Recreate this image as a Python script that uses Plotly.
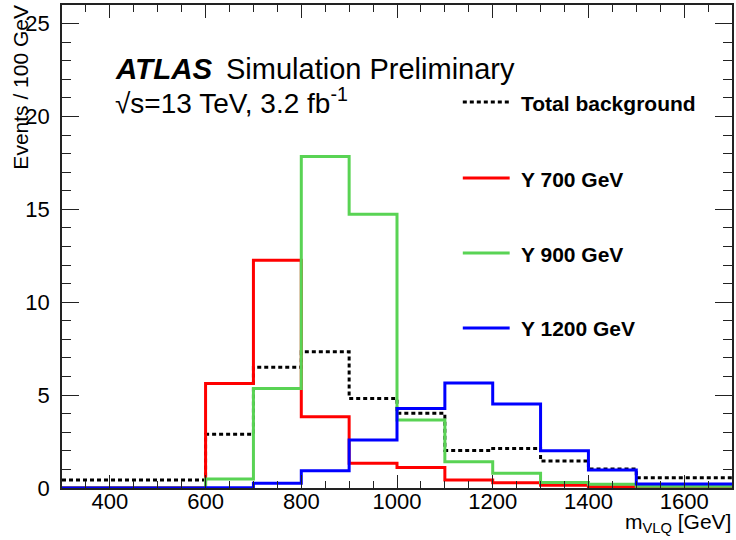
import plotly.graph_objects as go

# ---- data ----
bin_edges = [300, 400, 500, 600, 700, 800, 900, 1000, 1100, 1200, 1300, 1400, 1500, 1600, 1700]
total_bkg = [0.43, 0.43, 0.43, 2.90, 6.50, 7.33, 4.82, 4.02, 2.02, 2.13, 1.45, 1.02, 0.55, 0.55]
y700 = [0.02, 0.02, 0.02, 5.63, 12.26, 3.83, 1.33, 1.11, 0.43, 0.28, 0.15, 0.07, 0.04, 0.04]
y900 = [0.0, 0.0, 0.0, 0.48, 5.36, 17.85, 14.73, 3.66, 1.41, 0.79, 0.30, 0.20, 0.10, 0.10]
y1200 = [0.0, 0.0, 0.0, 0.02, 0.25, 0.93, 2.58, 4.28, 5.65, 4.52, 2.00, 0.97, 0.22, 0.22]

series = [
    ("Total background", total_bkg, "black", "4px,3px"),
    ("Y 700 GeV", y700, "#ff0000", "solid"),
    ("Y 900 GeV", y900, "#59d354", "solid"),
    ("Y 1200 GeV", y1200, "#0000ff", "solid"),
]

FONT = "Liberation Sans, Arial, Helvetica, sans-serif"
W, H = 736, 540
L, R, T, B = 62, 2, 5, 52
PW, PH = W - L - R, H - T - B


def px_x(p):
    return (p - L) / PW


def px_y(p):
    return (H - B - p) / PH


fig = go.Figure()
for name, vals, col, dash in series:
    fig.add_trace(go.Scatter(
        x=bin_edges, y=list(vals) + [vals[-1]], mode="lines", name=name,
        line=dict(color=col, width=3, dash=dash, shape="hv"),
        showlegend=False, hoverinfo="skip",
    ))

axis_common = dict(
    showline=True, linecolor="#222222", linewidth=1.5, mirror="ticks",
    ticks="inside", tickcolor="#222222", tickwidth=1.2,
    showgrid=False, zeroline=False,
    tickfont=dict(family=FONT, size=22, color="black"),
)

fig.update_xaxes(
    range=[300, 1700], tick0=400, dtick=200, ticklen=13,
    minor=dict(dtick=50, ticks="inside", ticklen=7, tickcolor="#222222", tickwidth=1.2, showgrid=False),
    ticklabelstandoff=-7,
    **axis_common,
)
fig.update_yaxes(
    range=[0, 26], tick0=0, dtick=5, ticklen=17,
    minor=dict(dtick=1, ticks="inside", ticklen=9, tickcolor="#222222", tickwidth=1.2, showgrid=False),
    ticklabelstandoff=6,
    **axis_common,
)

ann = []
# ATLAS label
ann.append(dict(x=px_x(113), y=px_y(69), xref="paper", yref="paper", xanchor="left", yanchor="middle",
                text="<b><i>ATLAS</i></b>", showarrow=False, font=dict(family=FONT, size=29.5, color="black")))
ann.append(dict(x=px_x(224), y=px_y(69), xref="paper", yref="paper", xanchor="left", yanchor="middle",
                text="Simulation Preliminary", showarrow=False, font=dict(family=FONT, size=29, color="black")))
ann.append(dict(x=px_x(113), y=px_y(101), xref="paper", yref="paper", xanchor="left", yanchor="middle",
                text="√s=13 TeV, 3.2 fb<sup>-1</sup>", showarrow=False, font=dict(family=FONT, size=28, color="black")))

# legend
leg_y = [102, 178, 253, 328]
shapes = []
for (name, vals, col, dash), yy in zip(series, leg_y):
    shapes.append(dict(type="line", xref="paper", yref="paper", x0=px_x(464), x1=px_x(511),
                       y0=px_y(yy), y1=px_y(yy), line=dict(color=col, width=3, dash=dash)))
    ann.append(dict(x=px_x(520), y=px_y(yy + 1), xref="paper", yref="paper", xanchor="left", yanchor="middle",
                    text="<b>%s</b>" % name, showarrow=False, font=dict(family=FONT, size=21, color="black")))

# axis titles
ann.append(dict(x=px_x(20), y=px_y(3), xref="paper", yref="paper", xanchor="center", yanchor="top",
                text="Events / 100 GeV", textangle=-90, showarrow=False,
                font=dict(family=FONT, size=21, color="black")))
ann.append(dict(x=px_x(735), y=px_y(523), xref="paper", yref="paper", xanchor="right", yanchor="middle",
                text="m<sub>VLQ</sub> [GeV]", showarrow=False,
                font=dict(family=FONT, size=21, color="black")))

fig.update_layout(
    width=W, height=H,
    margin=dict(l=L, r=R, t=T, b=B),
    paper_bgcolor="white", plot_bgcolor="white",
    annotations=ann, shapes=shapes, showlegend=False,
)

fig.write_html("out.html", config={"displayModeBar": False},
               post_script="document.body.style.margin='0';document.body.style.overflow='hidden';")
